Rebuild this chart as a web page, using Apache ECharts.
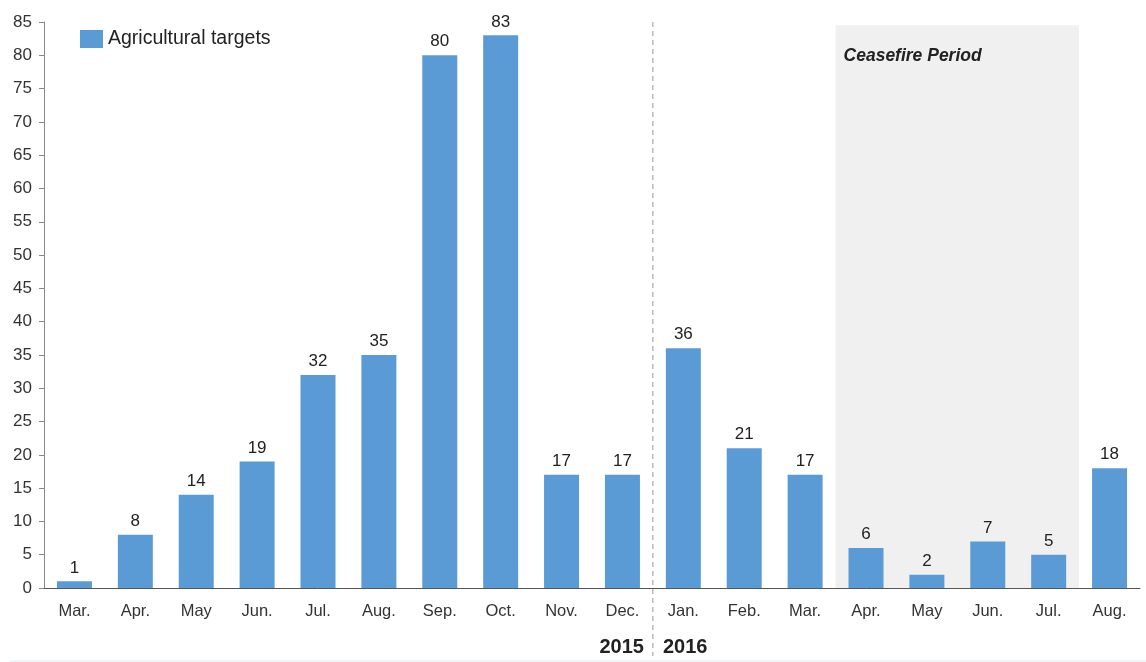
<!DOCTYPE html>
<html>
<head>
<meta charset="utf-8">
<style>html,body{margin:0;padding:0;background:#fff;}#main{width:1146px;height:662px;}</style>
<script src="https://cdn.jsdelivr.net/npm/echarts@6/dist/echarts.min.js"></script>
</head>
<body>
<div id="main"></div>
<script>
const months = ['Mar.','Apr.','May','Jun.','Jul.','Aug.','Sep.','Oct.','Nov.','Dec.','Jan.','Feb.','Mar.','Apr.','May','Jun.','Jul.','Aug.'];
const agriculturalTargets = [1,8,14,19,32,35,80,83,17,17,36,21,17,6,2,7,5,18];
const yearLabels = ['2015','2016'];
const yearSplitIndex = 10;      // first month of 2016
const ceasefireStart = 13;      // Apr. 2016
const ceasefireEnd = 16;        // Jul. 2016
const ceasefireLabel = 'Ceasefire Period';

const FONT = 'Liberation Sans, Arial, sans-serif';
const chart = echarts.init(document.getElementById('main'));
chart.setOption({
  animation: false,
  grid: {left: 44, right: 6, top: 22, bottom: 74, containLabel: false},
  legend: {
    left: 75, top: 24, itemWidth: 23, itemHeight: 18, itemGap: 6,
    textStyle: {fontFamily: FONT, fontSize: 19.5, color: '#222'},
    data: [{name: 'Agricultural targets', icon: 'rect'}]
  },
  xAxis: {
    type: 'category', data: months,
    axisLine: {lineStyle: {color: '#555', width: 1}},
    axisTick: {show: false},
    axisLabel: {fontFamily: FONT, fontSize: 16.5, color: '#333', margin: 15, interval: 0}
  },
  yAxis: {
    type: 'value', min: 0, max: 85, interval: 5,
    axisLine: {show: true, lineStyle: {color: '#888'}},
    axisTick: {show: true, length: 5, lineStyle: {color: '#888'}},
    splitLine: {show: false},
    axisLabel: {fontFamily: FONT, fontSize: 17, color: '#333', margin: 12}
  },
  series: [{
    name: 'Agricultural targets', type: 'bar', data: agriculturalTargets,
    barWidth: 35, z: 3,
    itemStyle: {color: '#5B9BD5'},
    label: {show: true, position: 'top', distance: 5, fontFamily: FONT, fontSize: 17, color: '#222'}
  }]
});

function px(idx, val) { return chart.convertToPixel({xAxisIndex: 0, yAxisIndex: 0}, [idx, val]); }
const c9 = px(yearSplitIndex - 1, 0), c10 = px(yearSplitIndex, 0);
const splitX = (c9[0] + c10[0]) / 2;
const top85 = px(0, 85)[1];
const zeroY = c10[1];
const a0 = px(ceasefireStart - 1, 0)[0], a1 = px(ceasefireStart, 0)[0];
const b0 = px(ceasefireEnd, 0)[0], b1 = px(ceasefireEnd + 1, 0)[0];
const shadeL = (a0 + a1) / 2, shadeR = (b0 + b1) / 2;
const shadeTop = px(0, 84.5)[1];

chart.setOption({
  graphic: [
    {type: 'rect', z: -1, silent: true,
     shape: {x: shadeL, y: shadeTop, width: shadeR - shadeL, height: zeroY - shadeTop},
     style: {fill: '#F0F0F0'}},
    {type: 'text', z: 5, silent: true, x: shadeL + 8, y: shadeTop + 31,
     style: {text: ceasefireLabel, fontFamily: FONT, fontSize: 17.5, fontWeight: 'bold', fontStyle: 'italic',
             fill: '#222', textVerticalAlign: 'middle'}},
    {type: 'line', z: 5, silent: true,
     shape: {x1: splitX, y1: top85, x2: splitX, y2: 656},
     style: {stroke: '#999', lineWidth: 1, lineDash: [5, 4]}},
    {type: 'text', z: 5, silent: true, x: splitX - 9, y: 647,
     style: {text: yearLabels[0], fontFamily: FONT, fontSize: 20, fontWeight: 'bold', fill: '#222',
             textAlign: 'right', textVerticalAlign: 'middle'}},
    {type: 'text', z: 5, silent: true, x: splitX + 10, y: 647,
     style: {text: yearLabels[1], fontFamily: FONT, fontSize: 20, fontWeight: 'bold', fill: '#222',
             textAlign: 'left', textVerticalAlign: 'middle'}},
    {type: 'line', z: 5, silent: true,
     shape: {x1: 10, y1: 661, x2: 1146, y2: 661},
     style: {stroke: '#E4ECEF', lineWidth: 1}}
  ]
});
</script>
</body>
</html>
